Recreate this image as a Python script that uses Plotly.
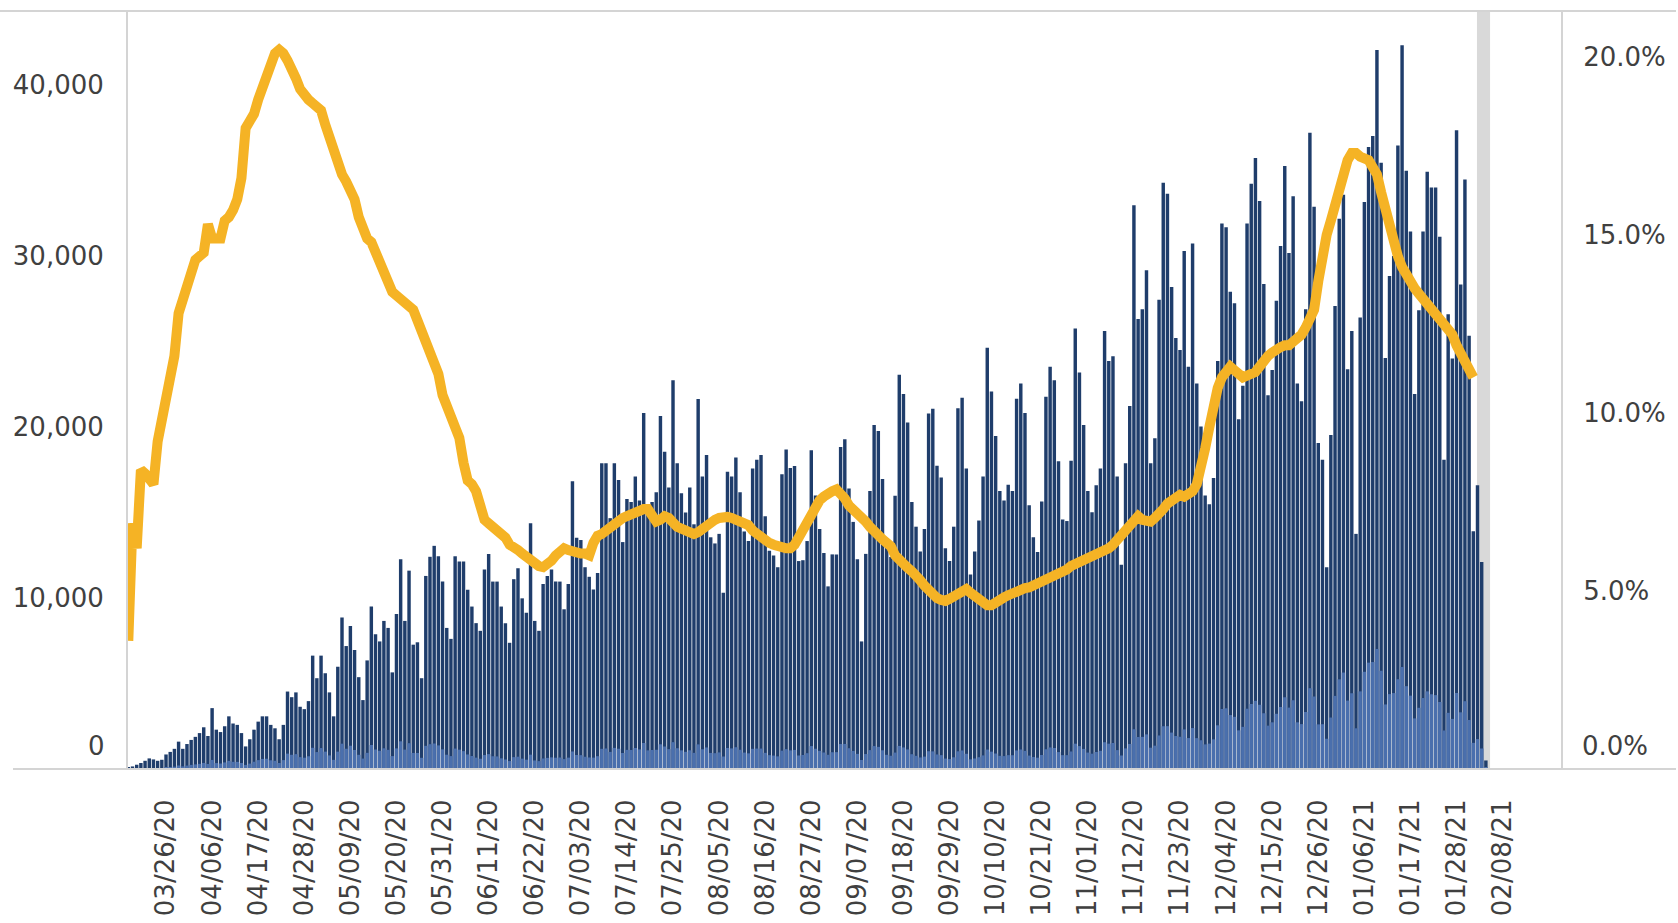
import pandas as pd
import plotly.graph_objects as go

start_date = "2020-03-17"

total_tests = [
    100, 150, 250, 350, 480, 620, 560, 480, 540, 850,
    1000, 1180, 1600, 1180, 1460, 1700, 1880, 2100, 2440, 1930,
    3560, 2300, 2160, 2500, 3080, 2660, 2580, 2100, 1320, 1740,
    2300, 2770, 3080, 3080, 2580, 2380, 1740, 2580, 4530, 4200,
    4480, 3640, 3500, 3970, 6630, 5310, 6630, 5600, 4480, 3080,
    5980, 8860, 7190, 8360, 6960, 5370, 4030, 6350, 9500, 7880,
    7460, 8660, 8250, 5650, 9060, 12270, 8660, 11600, 7270, 7410,
    5310, 11290, 12410, 13050, 12440, 10960, 8250, 7610, 12440, 12130,
    12130, 10480, 9500, 8530, 8080, 11660, 12580, 10960, 10960, 9500,
    8530, 7380, 11100, 11740, 9980, 9140, 14370, 8660, 8080, 10820,
    11290, 11660, 10960, 10960, 9340, 10820, 16820, 13530, 13390, 11800,
    11240, 10500, 11460, 17880, 17880, 14670, 17880, 16900, 13270, 15790,
    15620, 17100, 15700, 20820, 14950, 15620, 16180, 20650, 18550, 16460,
    22740, 17880, 16120, 15000, 16460, 14310, 21630, 17100, 18360, 13550,
    13190, 13750, 10310, 17380, 17100, 18220, 16180, 13890, 13330, 17580,
    18080, 18360, 14780, 12770, 12490, 11800, 17240, 18690, 17600, 17720,
    12160, 12210, 13330, 18640, 16000, 14030, 12630, 10680, 12550, 12550,
    18830, 19280, 16400, 14450, 12270, 7460, 12580, 16260, 20120, 19760,
    16960, 13050, 12400, 15980, 23050, 21930, 20260, 15620, 14170, 12720,
    14030, 20790, 21070, 17740, 17050, 12910, 12160, 14170, 21100, 21710,
    17580, 11380, 12720, 14530, 17100, 24640, 22070, 19480, 16260, 15700,
    16620, 16260, 21650, 22550, 20820, 15420, 13550, 12690, 15650, 21770,
    23520, 22740, 17990, 14590, 14500, 18020, 25760, 23190, 20120, 16260,
    15010, 16600, 17580, 25620, 23860, 24140, 17100, 11940, 17880, 21230,
    32970, 26320, 26880, 29170, 17880, 19340, 27440, 34280, 33640, 28190,
    25200, 24500, 30290, 23520, 30730, 22550, 20030, 16000, 15480, 17020,
    23860, 31900, 31680, 27910, 27240, 20450, 22410, 31900, 34220, 35730,
    33220, 28360, 21850, 23330, 27380, 30590, 35260, 30170, 33500, 22550,
    21500, 26880, 37210, 32880, 19060, 18080, 11800, 19530, 27070, 32180,
    33580, 23380, 25620, 13750, 26400, 33160, 36370, 37010, 42040, 35450,
    24030, 28830, 30000, 36460, 42320, 34980, 31430, 21930, 26820, 31430,
    34920, 34000, 34000, 31120, 18080, 26600, 24000, 37350, 28330, 34470,
    25340, 13900, 16600, 12100, 500,
]

positive_tests = [
    5, 10, 15, 30, 40, 50, 45, 45, 55, 90,
    110, 135, 205, 155, 200, 240, 270, 300, 355, 295,
    530, 345, 320, 385, 475, 420, 415, 350, 240, 315,
    425, 520, 590, 600, 510, 480, 350, 520, 900, 830,
    870, 695, 660, 745, 1240, 990, 1225, 1015, 795, 535,
    1015, 1480, 1185, 1360, 1110, 830, 610, 945, 1405, 1140,
    1065, 1210, 1120, 755, 1205, 1620, 1135, 1510, 940, 935,
    655, 1355, 1450, 1490, 1380, 1150, 835, 755, 1195, 1130,
    1045, 850, 760, 665, 600, 815, 870, 745, 735, 625,
    555, 465, 695, 720, 605, 545, 840, 500, 460, 615,
    650, 680, 660, 670, 580, 665, 1025, 820, 810, 715,
    675, 665, 750, 1180, 1200, 1000, 1235, 1185, 935, 1120,
    1115, 1230, 1145, 1520, 1090, 1110, 1125, 1445, 1315, 1160,
    1570, 1215, 1090, 1005, 1095, 945, 1440, 1155, 1260, 940,
    925, 970, 730, 1230, 1205, 1275, 1125, 960, 915, 1180,
    1195, 1195, 945, 810, 785, 740, 1070, 1160, 1090, 1115,
    790, 820, 925, 1340, 1185, 1060, 965, 830, 980, 985,
    1460, 1465, 1215, 1055, 885, 525, 875, 1105, 1340, 1295,
    1095, 830, 775, 960, 1350, 1260, 1145, 865, 770, 675,
    725, 1040, 1030, 850, 810, 610, 580, 685, 1035, 1085,
    890, 565, 615, 690, 795, 1135, 1015, 905, 770, 755,
    810, 805, 1085, 1140, 1060, 785, 700, 660, 820, 1155,
    1260, 1230, 990, 810, 810, 1025, 1480, 1340, 1175, 960,
    895, 995, 1065, 1565, 1480, 1520, 1105, 790, 1205, 1465,
    2325, 1870, 1880, 2025, 1245, 1365, 1960, 2500, 2505, 2130,
    1930, 1885, 2315, 1810, 2395, 1805, 1680, 1440, 1485, 1735,
    2555, 3510, 3550, 3155, 3050, 2260, 2465, 3525, 3800, 3985,
    3755, 3260, 2535, 2730, 3230, 3625, 4195, 3590, 4020, 2730,
    2625, 3335, 4725, 4240, 2610, 2620, 1770, 3010, 4275, 5245,
    5640, 4000, 4430, 2380, 4540, 5685, 6220, 6255, 7020, 5745,
    3775, 4380, 4440, 5250, 5965, 4845, 4290, 2960, 3580, 4150,
    4540, 4370, 4320, 3920, 2250, 3285, 2930, 4445, 3315, 3965,
    2865, 1530, 1750, 1200, 60,
]

positivity_pct = [
    3.6, 6.9, 6.2, 8.4, 8.3, 8.1, 8.0, 9.2, 9.8, 10.6,
    11.2, 11.6, 12.8, 13.2, 13.7, 14.0, 14.3, 14.4, 14.5, 15.3,
    14.9, 14.9, 14.9, 15.4, 15.5, 15.7, 16.0, 16.6, 18.0, 18.2,
    18.4, 18.8, 19.1, 19.4, 19.8, 20.1, 20.2, 20.1, 19.9, 19.7,
    19.4, 19.1, 18.9, 18.8, 18.7, 18.6, 18.5, 18.1, 17.7, 17.3,
    17.0, 16.7, 16.5, 16.3, 16.0, 15.5, 15.1, 14.9, 14.8, 14.5,
    14.3, 14.0, 13.6, 13.4, 13.3, 13.2, 13.1, 13.0, 12.9, 12.6,
    12.3, 12.0, 11.7, 11.4, 11.1, 10.5, 10.1, 9.9, 9.6, 9.3,
    8.6, 8.1, 8.0, 7.8, 7.4, 7.0, 6.9, 6.8, 6.7, 6.6,
    6.5, 6.3, 6.25, 6.15, 6.05, 5.95, 5.85, 5.75, 5.7, 5.67,
    5.75, 5.85, 6.0, 6.1, 6.2, 6.15, 6.1, 6.05, 6.05, 6.05,
    6.0, 6.35, 6.55, 6.6, 6.7, 6.8, 6.9, 7.0, 7.05, 7.1,
    7.15, 7.2, 7.3, 7.3, 7.3, 7.1, 6.95, 7.0, 7.1, 7.05,
    6.9, 6.8, 6.75, 6.7, 6.65, 6.6, 6.65, 6.75, 6.85, 6.95,
    7.0, 7.05, 7.1, 7.08, 7.05, 7.0, 6.95, 6.9, 6.85, 6.7,
    6.6, 6.5, 6.4, 6.35, 6.3, 6.25, 6.22, 6.2, 6.2, 6.3,
    6.5, 6.7, 6.95, 7.2, 7.4, 7.55, 7.65, 7.75, 7.8, 7.85,
    7.75, 7.6, 7.4, 7.3, 7.2, 7.05, 6.95, 6.8, 6.65, 6.55,
    6.45, 6.35, 6.25, 6.0, 5.85, 5.75, 5.65, 5.55, 5.45, 5.3,
    5.15, 5.0, 4.9, 4.8, 4.75, 4.72, 4.78, 4.85, 4.9, 5.0,
    5.05, 4.95, 4.85, 4.75, 4.65, 4.6, 4.6, 4.65, 4.75, 4.82,
    4.88, 4.95, 5.02, 5.06, 5.08, 5.1, 5.15, 5.2, 5.25, 5.3,
    5.35, 5.4, 5.5, 5.55, 5.6, 5.7, 5.75, 5.78, 5.85, 5.9,
    5.95, 6.0, 6.05, 6.1, 6.2, 6.3, 6.45, 6.6, 6.75, 6.9,
    7.05, 7.1, 7.0, 6.95, 6.95, 7.05, 7.15, 7.3, 7.45, 7.55,
    7.65, 7.7, 7.65, 7.7, 7.8, 8.0, 8.4, 9.0, 9.6, 10.2,
    10.7, 11.0, 11.2, 11.3, 11.2, 11.05, 11.0, 11.05, 11.1, 11.15,
    11.3, 11.5, 11.6, 11.7, 11.8, 11.85, 11.9, 11.9, 12.0, 12.1,
    12.2, 12.4, 12.7, 12.9, 13.7, 14.5, 15.0, 15.4, 15.8, 16.3,
    16.8, 17.1, 17.3, 17.3, 17.2, 17.15, 17.1, 16.9, 16.7, 16.2,
    15.7, 15.2, 14.8, 14.4, 14.1, 13.85, 13.65, 13.5, 13.35, 13.2,
    13.0, 12.85, 12.7, 12.6, 12.45, 12.35, 12.2, 11.9, 11.7, 11.5,
    11.3, 11.0,
]

tick_labels = [
    "03/26/20", "04/06/20", "04/17/20", "04/28/20", "05/09/20", "05/20/20",
    "05/31/20", "06/11/20", "06/22/20", "07/03/20", "07/14/20", "07/25/20",
    "08/05/20", "08/16/20", "08/27/20", "09/07/20", "09/18/20", "09/29/20",
    "10/10/20", "10/21/20", "11/01/20", "11/12/20", "11/23/20", "12/04/20",
    "12/15/20", "12/26/20", "01/06/21", "01/17/21", "01/28/21", "02/08/21",
]
left_ticks = [10000, 20000, 30000, 40000]
left_tick_text = ["10,000", "20,000", "30,000", "40,000"]
right_ticks = [5, 10, 15, 20]
right_tick_text = ["5.0%", "10.0%", "15.0%", "20.0%"]

dates = pd.date_range(start_date, periods=len(total_tests), freq="D")
rate_dates = dates[: len(positivity_pct)]
tick_dates = pd.to_datetime(tick_labels, format="%m/%d/%y")

DARK = "#1F3D6B"
LIGHT = "#4A6FAD"
GOLD = "#F5B325"
TXT = "#404040"
FRAME = "#D4D4D4"
FONT = "DejaVu Sans"

fig = go.Figure()
fig.add_trace(go.Bar(x=dates, y=total_tests, marker=dict(color=DARK, line=dict(width=0)),
                     name="Total tests", showlegend=False))
fig.add_trace(go.Bar(x=dates, y=positive_tests, marker=dict(color=LIGHT, line=dict(width=0)),
                     name="Positive tests", showlegend=False))
fig.add_trace(go.Scatter(x=rate_dates, y=positivity_pct, yaxis="y2", mode="lines",
                         line=dict(color=GOLD, width=10), name="Positivity", showlegend=False))

W, H = 1678, 923
L, R, T, B = 127, 116, 11, 154
pw = W - L - R


def px_to_paper(px):
    return (px - L) / pw


fig.update_layout(
    width=W, height=H,
    margin=dict(l=L, r=R, t=T, b=B, pad=0),
    paper_bgcolor="white", plot_bgcolor="white",
    barmode="overlay", bargap=0.18,
    font=dict(family=FONT, size=26, color=TXT),
    xaxis=dict(
        type="date",
        range=["2020-03-16 16:30", "2021-02-22 04:00"],
        tickmode="array", tickvals=tick_dates, ticktext=tick_labels,
        tickangle=-90, ticks="outside", ticklen=19, tickcolor="rgba(0,0,0,0)",
        showgrid=False, showline=False, zeroline=False, automargin=False,
        tickfont=dict(family=FONT, size=26, color=TXT),
    ),
    yaxis=dict(
        range=[0, 44327],
        tickmode="array", tickvals=left_ticks, ticktext=left_tick_text,
        ticks="outside", ticklen=17, tickcolor="rgba(0,0,0,0)",
        showgrid=False, showline=False, zeroline=False, automargin=False,
        tickfont=dict(family=FONT, size=26, color=TXT),
    ),
    yaxis2=dict(
        overlaying="y", side="right",
        range=[0, 21.29],
        tickmode="array", tickvals=right_ticks, ticktext=right_tick_text,
        ticks="outside", ticklen=15, tickcolor="rgba(0,0,0,0)",
        showgrid=False, showline=False, zeroline=False, automargin=False,
        tickfont=dict(family=FONT, size=26, color=TXT),
    ),
    shapes=[
        dict(type="rect", xref="x", yref="paper", x0="2021-02-01 21:00", x1="2021-02-05 00:00",
             y0=0, y1=1, fillcolor="#D9D9D9", line=dict(width=0), layer="below"),
        dict(type="line", xref="paper", yref="paper", x0=px_to_paper(0), x1=px_to_paper(1676),
             y0=1, y1=1, line=dict(color=FRAME, width=2)),
        dict(type="line", xref="paper", yref="paper", x0=px_to_paper(13), x1=px_to_paper(1676),
             y0=0, y1=0, line=dict(color=FRAME, width=2)),
        dict(type="line", xref="paper", yref="paper", x0=0, x1=0,
             y0=0, y1=1, line=dict(color=FRAME, width=2)),
        dict(type="line", xref="paper", yref="paper", x0=1, x1=1,
             y0=0, y1=1, line=dict(color=FRAME, width=2)),
    ],
    annotations=[
        dict(text="0", xref="paper", yref="y", x=px_to_paper(107), y=0, xanchor="right",
             yanchor="middle", yshift=23, showarrow=False,
             font=dict(family=FONT, size=26, color=TXT)),
        dict(text="0.0%", xref="paper", yref="y2", x=px_to_paper(1580), y=0, xanchor="left",
             yanchor="middle", yshift=23, showarrow=False,
             font=dict(family=FONT, size=26, color=TXT)),
    ],
)

fig.write_html(
    "out.html",
    config={"displayModeBar": False},
    post_script="document.body.style.margin='0px';document.body.style.overflow='hidden';",
)
